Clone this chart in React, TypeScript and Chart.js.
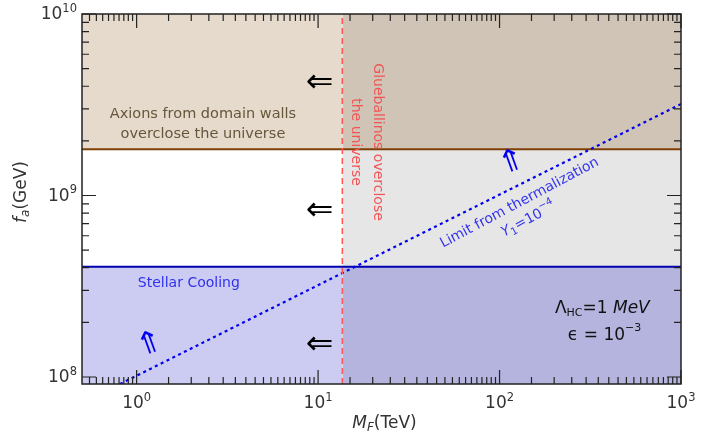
import { useEffect, useRef } from 'react';
import { Chart, registerables } from 'chart.js';
Chart.register(...registerables);

// ---- data ----
const X_MIN = 0.5;
const X_MAX = 1000;
const Y_MIN = 0.915e8;
const Y_MAX = 1e10;
const DOMAIN_WALL_FA = 1.8e9; // axions from domain walls limit
const STELLAR_FA = 4.05e8; // stellar cooling limit
const GLUEBALLINO_MF = 13.6; // glueballinos overclose
const THERMAL_MF = [0.81, 1000];
const THERMAL_FA = [0.915e8, 3.19e9];
const X_MAJOR = [1, 10, 100, 1000];
const X_MAJOR_EXP = ['0', '1', '2', '3'];
const Y_MAJOR = [1e8, 1e9, 1e10];
const Y_MAJOR_EXP = ['8', '9', '10'];

// regions: [x0, x1, y0, y1, color]
const REGIONS: [number, number, number, number, string][] = [
  [X_MIN, GLUEBALLINO_MF, DOMAIN_WALL_FA, Y_MAX, '#e6dacd'],
  [GLUEBALLINO_MF, X_MAX, DOMAIN_WALL_FA, Y_MAX, '#d0c4b6'],
  [GLUEBALLINO_MF, X_MAX, STELLAR_FA, DOMAIN_WALL_FA, '#e6e6e6'],
  [X_MIN, GLUEBALLINO_MF, Y_MIN, STELLAR_FA, '#ccccf2'],
  [GLUEBALLINO_MF, X_MAX, Y_MIN, STELLAR_FA, '#b4b4de'],
];

const FONT = '"DejaVu Sans", sans-serif';
type Run = { t: string; s: number; i?: boolean; dy?: number };
const fontOf = (r: Run) => `${r.i ? 'italic ' : ''}${r.s}px ${FONT}`;
function runsWidth(ctx: CanvasRenderingContext2D, runs: Run[]) {
  let w = 0;
  for (const r of runs) {
    ctx.font = fontOf(r);
    w += ctx.measureText(r.t).width;
  }
  return w;
}
function drawRuns(
  ctx: CanvasRenderingContext2D,
  runs: Run[],
  x: number,
  y: number,
  align: 'left' | 'center' | 'right',
  color: string
) {
  const w = runsWidth(ctx, runs);
  let cx = align === 'left' ? x : align === 'center' ? x - w / 2 : x - w;
  ctx.fillStyle = color;
  ctx.textBaseline = 'middle';
  ctx.textAlign = 'left';
  for (const r of runs) {
    ctx.font = fontOf(r);
    ctx.fillText(r.t, cx, y + (r.dy || 0));
    cx += ctx.measureText(r.t).width;
  }
}
function rotated(ctx: CanvasRenderingContext2D, deg: number, x: number, y: number, fn: () => void) {
  ctx.save();
  ctx.translate(x, y);
  ctx.rotate((deg * Math.PI) / 180);
  fn();
  ctx.restore();
}

const overlay = {
  id: 'overlay',
  afterDatasetsDraw(chart: any) {
    const ctx: CanvasRenderingContext2D = chart.ctx;
    const xs = chart.scales.x;
    const ys = chart.scales.y;
    const X = (v: number) => xs.getPixelForValue(v);
    const Y = (v: number) => ys.getPixelForValue(v);
    const { left, right, top, bottom } = chart.chartArea;
    ctx.save();

    // annotations
    drawRuns(ctx, [{ t: 'Axions from domain walls', s: 14.5 }], X(2.32), Y(2.48e9) - 10, 'center', '#66563a');
    drawRuns(ctx, [{ t: 'overclose the universe', s: 14.5 }], X(2.32), Y(2.48e9) + 10, 'center', '#66563a');

    for (const yv of [4.17e9, 8.22e8, 1.5e8]) {
      drawRuns(ctx, [{ t: '⇐', s: 33 }], X(10.2), Y(yv), 'center', '#000');
    }

    rotated(ctx, 90, X(18.5), Y(1.97e9), () => {
      drawRuns(ctx, [{ t: 'Glueballinos overclose', s: 14 }], 0, -11, 'center', '#f25555');
      drawRuns(ctx, [{ t: 'the universe', s: 14 }], 0, 11, 'center', '#f25555');
    });

    rotated(ctx, -20, X(117), Y(1.51e9), () => {
      drawRuns(ctx, [{ t: '⇑', s: 31 }], 0, 0, 'center', '#0000ee');
    });
    rotated(ctx, -20, X(1.185), Y(1.5e8), () => {
      drawRuns(ctx, [{ t: '⇑', s: 31 }], 0, 0, 'center', '#0000ee');
    });

    drawRuns(ctx, [{ t: 'Stellar Cooling', s: 14 }], X(1.94), Y(3.27e8), 'center', '#3030ee');

    rotated(ctx, -28, X(129), Y(9.1e8), () => {
      drawRuns(ctx, [{ t: 'Limit from thermalization', s: 14 }], 0, 0, 'center', '#3535ee');
      drawRuns(
        ctx,
        [
          { t: 'Y', s: 14, i: true },
          { t: '1', s: 10, dy: 4 },
          { t: '=10', s: 14 },
          { t: '−4', s: 10, dy: -6 },
        ],
        0,
        19,
        'center',
        '#3535ee'
      );
    });

    drawRuns(
      ctx,
      [
        { t: 'Λ', s: 17 },
        { t: 'HC', s: 11, dy: 4 },
        { t: '=1 ', s: 17 },
        { t: 'MeV', s: 17, i: true },
      ],
      X(202),
      Y(2.37e8),
      'left',
      '#111'
    );
    drawRuns(
      ctx,
      [
        { t: 'ϵ = 10', s: 17 },
        { t: '−3', s: 11, dy: -7 },
      ],
      X(238),
      Y(1.7e8),
      'left',
      '#111'
    );

    // frame
    ctx.strokeStyle = '#222';
    ctx.lineWidth = 1.5;
    ctx.strokeRect(left, top, right - left, bottom - top);

    // ticks
    ctx.lineWidth = 1.2;
    ctx.beginPath();
    const xMinor: number[] = [];
    for (let d = -1; d <= 2; d++) {
      for (let m = 1.5; m < 10; m += 0.5) {
        const v = m * Math.pow(10, d);
        if (v > X_MIN && v < X_MAX) xMinor.push(v);
      }
    }
    const yMinor: number[] = [];
    for (let d = 7; d <= 9; d++) {
      for (let m = 2; m < 10; m++) {
        const v = m * Math.pow(10, d);
        if (v > Y_MIN && v < Y_MAX) yMinor.push(v);
      }
    }
    const xTick = (v: number, len: number) => {
      const p = X(v);
      ctx.moveTo(p, bottom);
      ctx.lineTo(p, bottom - len);
      ctx.moveTo(p, top);
      ctx.lineTo(p, top + len);
    };
    const yTick = (v: number, len: number) => {
      const p = Y(v);
      ctx.moveTo(left, p);
      ctx.lineTo(left + len, p);
      ctx.moveTo(right, p);
      ctx.lineTo(right - len, p);
    };
    xMinor.forEach((v) => xTick(v, 7));
    X_MAJOR.forEach((v) => xTick(v, 14));
    yMinor.forEach((v) => yTick(v, 7));
    Y_MAJOR.forEach((v) => yTick(v, 14));
    ctx.stroke();

    // tick labels
    X_MAJOR.forEach((v, i) => {
      drawRuns(
        ctx,
        [
          { t: '10', s: 17 },
          { t: X_MAJOR_EXP[i], s: 11.5, dy: -6 },
        ],
        X(v),
        bottom + 20,
        'center',
        '#333'
      );
    });
    Y_MAJOR.forEach((v, i) => {
      drawRuns(
        ctx,
        [
          { t: '10', s: 17 },
          { t: Y_MAJOR_EXP[i], s: 11.5, dy: -6 },
        ],
        left - 5,
        Y(v) + 1,
        'right',
        '#333'
      );
    });

    // axis titles
    drawRuns(
      ctx,
      [
        { t: 'M', s: 17, i: true },
        { t: 'F', s: 12, i: true, dy: 4 },
        { t: '(TeV)', s: 17 },
      ],
      (left + right) / 2 + 3,
      bottom + 40,
      'center',
      '#333'
    );
    rotated(ctx, -90, left - 60, top + 178, () => {
      drawRuns(
        ctx,
        [
          { t: 'f', s: 17, i: true },
          { t: 'a', s: 12, i: true, dy: 4 },
          { t: '(GeV)', s: 17 },
        ],
        0,
        0,
        'center',
        '#333'
      );
    });

    ctx.restore();
  },
};

export default function App() {
  const ref = useRef<HTMLCanvasElement>(null);
  useEffect(() => {
    if (!ref.current) return;
    const regionSets = REGIONS.map(([x0, x1, y0, y1, c]) => ({
      data: [
        { x: x0, y: y1 },
        { x: x1, y: y1 },
      ],
      fill: { value: y0 },
      backgroundColor: c,
      borderWidth: 0,
      pointRadius: 0,
    }));
    const chart = new Chart(ref.current, {
      type: 'line',
      data: {
        datasets: [
          {
            data: [
              { x: GLUEBALLINO_MF, y: Y_MIN },
              { x: GLUEBALLINO_MF, y: Y_MAX },
            ],
            borderColor: '#ff5555',
            borderWidth: 1.5,
            borderDash: [6, 4],
            pointRadius: 0,
            fill: false,
          },
          {
            data: THERMAL_MF.map((x, i) => ({ x, y: THERMAL_FA[i] })),
            borderColor: '#0000ee',
            borderWidth: 2.2,
            borderDash: [3, 3.5],
            pointRadius: 0,
            fill: false,
          },
          {
            data: [
              { x: X_MIN, y: DOMAIN_WALL_FA },
              { x: X_MAX, y: DOMAIN_WALL_FA },
            ],
            borderColor: '#7f3f05',
            borderWidth: 2,
            pointRadius: 0,
            fill: false,
          },
          {
            data: [
              { x: X_MIN, y: STELLAR_FA },
              { x: X_MAX, y: STELLAR_FA },
            ],
            borderColor: '#0000b0',
            borderWidth: 2,
            pointRadius: 0,
            fill: false,
          },
          ...regionSets,
        ] as any,
      },
      options: {
        animation: false,
        responsive: false,
        layout: { padding: { left: 82, right: 33, top: 14, bottom: 52 } },
        plugins: { legend: { display: false }, tooltip: { enabled: false } },
        scales: {
          x: { type: 'logarithmic', min: X_MIN, max: X_MAX, display: false },
          y: { type: 'logarithmic', min: Y_MIN, max: Y_MAX, display: false },
        },
      },
      plugins: [overlay],
    });
    return () => chart.destroy();
  }, []);
  return (
    <div style={{ position: 'fixed', left: 0, top: 0, width: 714, height: 436, background: '#fff' }}>
      <canvas ref={ref} width={714} height={436} style={{ width: 714, height: 436 }} />
    </div>
  );
}
